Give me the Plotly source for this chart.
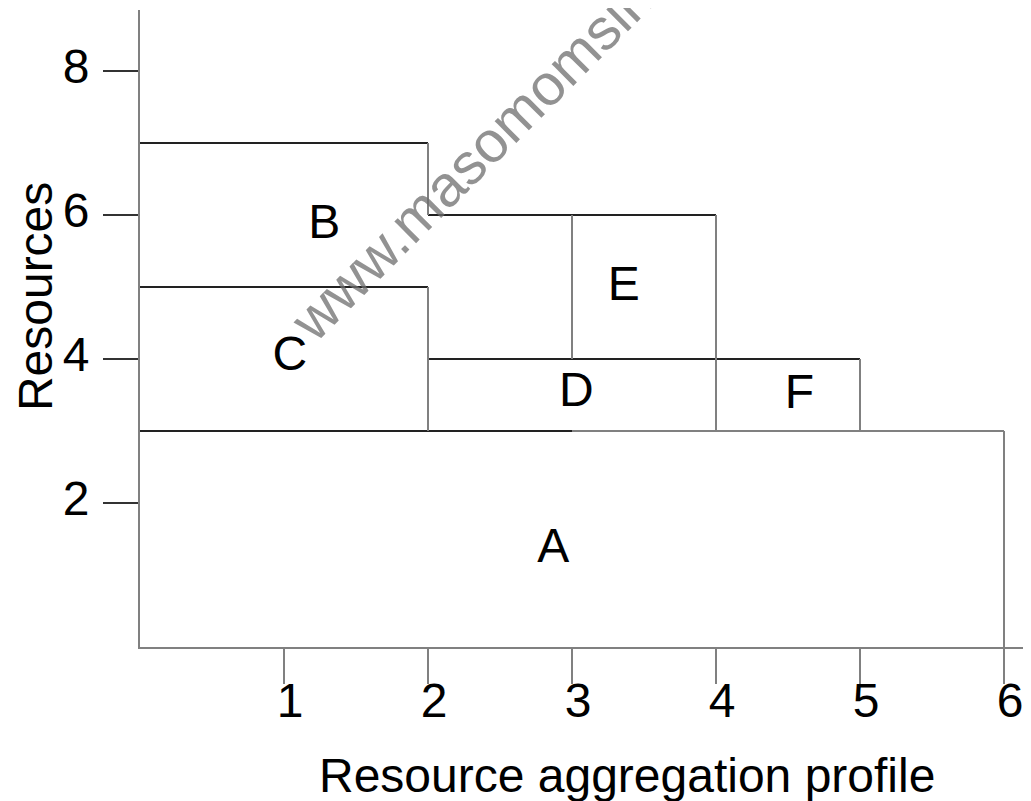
import plotly.graph_objects as go

# ---- data ----
activity_labels = ["A", "B", "C", "D", "E", "F"]
label_x = [2.87, 1.28, 1.04, 3.03, 3.36, 4.58]
label_y = [1.35, 5.85, 4.01, 3.51, 4.98, 3.49]

# horizontal edges: (y, x_start, x_end)
h_y = [7, 5, 6, 4, 3, 3]
h_x0 = [0, 0, 2, 2, 0, 3]
h_x1 = [2, 2, 4, 5, 3, 6]

# vertical edges: (x, y_start, y_end)
v_x = [2, 2, 3, 4, 5, 6]
v_y0 = [6, 3, 4, 3, 3, 0]
v_y1 = [7, 5, 6, 6, 4, 3]

x_ticks = [1, 2, 3, 4, 5, 6]
y_ticks = [2, 4, 6, 8]

x_title = "Resource aggregation profile"
y_title = "Resources"
watermark = "www.masomomsingi.com"

FONT = "Liberation Sans, Arial, sans-serif"
DARK = "#222222"
GRAY = "#808080"

fig = go.Figure()

for y, a, b in zip(h_y, h_x0, h_x1):
    col = GRAY if (a == 3 and y == 3) else DARK
    fig.add_trace(go.Scatter(x=[a, b], y=[y, y], mode="lines",
                             line=dict(color=col, width=2), hoverinfo="skip",
                             showlegend=False))
for x, a, b in zip(v_x, v_y0, v_y1):
    fig.add_trace(go.Scatter(x=[x, x], y=[a, b], mode="lines",
                             line=dict(color=GRAY, width=2), hoverinfo="skip",
                             showlegend=False))

fig.add_trace(go.Scatter(x=label_x, y=label_y, mode="text", text=activity_labels,
                         textfont=dict(family=FONT, size=48, color="#000000"),
                         hoverinfo="skip", showlegend=False))

fig.update_layout(
    width=1023, height=793,
    margin=dict(l=132, r=0, t=2, b=154, autoexpand=False),
    paper_bgcolor="white", plot_bgcolor="white",
    showlegend=False,
    xaxis=dict(range=[0, 891 / 144], tickvals=x_ticks, ticktext=[str(v) for v in x_ticks],
               showgrid=False, zeroline=False, showline=True, linecolor=GRAY, linewidth=2,
               ticks="outside", ticklen=35, tickwidth=2, tickcolor=GRAY,
               ticklabelstandoff=-25, ticklabelshift=6,
               tickfont=dict(family=FONT, size=48, color="#000000")),
    yaxis=dict(range=[0, 637 / 72], tickvals=y_ticks, ticktext=[str(v) for v in y_ticks],
               showgrid=False, zeroline=False, showline=True, linecolor=GRAY, linewidth=2,
               ticks="outside", ticklen=35, tickwidth=2, tickcolor="#333333",
               ticklabelstandoff=4, ticklabelshift=-5,
               tickfont=dict(family=FONT, size=48, color="#000000")),
    annotations=[
        dict(text=x_title, x=0.5466, y=-0.201, xref="paper", yref="paper", showarrow=False,
             xanchor="center", yanchor="middle",
             font=dict(family=FONT, size=48, color="#000000")),
        dict(text=y_title, x=-0.1178, y=4.86, xref="paper", yref="y", showarrow=False,
             textangle=-90, xanchor="center", yanchor="middle",
             font=dict(family=FONT, size=48, color="#000000")),
        dict(text=watermark, x=2.72, y=7.62, xref="x", yref="y", showarrow=False,
             textangle=-45, xanchor="center", yanchor="middle",
             font=dict(family=FONT, size=58, color="rgba(110,110,110,0.75)")),
    ],
)

fig.write_html("out.html", config={"displayModeBar": False})
